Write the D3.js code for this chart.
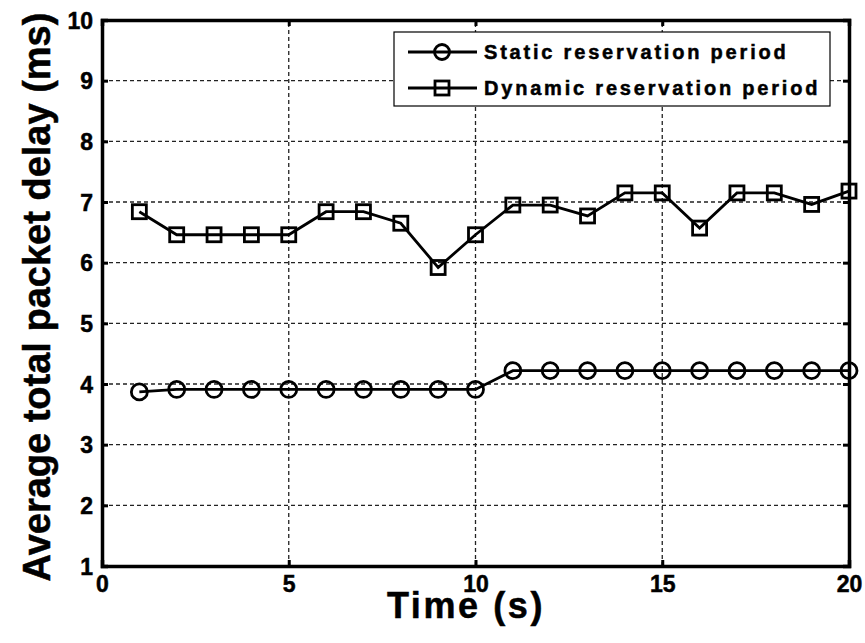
<!DOCTYPE html>
<html>
<head>
<meta charset="utf-8">
<script src="https://cdn.jsdelivr.net/npm/d3@7"></script>
<style>
  body { margin: 0; background: #fff; }
  text { font-family: "Liberation Sans", Arial, sans-serif; font-weight: bold; fill: #000; stroke: #000; stroke-width: 0.5px; }
</style>
</head>
<body>
<svg></svg>
<script>
const times = [1, 2, 3, 4, 5, 6, 7, 8, 9, 10, 11, 12, 13, 14, 15, 16, 17, 18, 19, 20];
const staticDelay = [3.87, 3.91, 3.91, 3.91, 3.91, 3.91, 3.91, 3.91, 3.91, 3.91,
                     4.22, 4.22, 4.22, 4.22, 4.22, 4.22, 4.22, 4.22, 4.22, 4.22];
const dynamicDelay = [6.84, 6.46, 6.46, 6.46, 6.46, 6.84, 6.84, 6.65, 5.92, 6.46,
                      6.95, 6.95, 6.77, 7.15, 7.15, 6.57, 7.15, 7.15, 6.96, 7.18];
const xTicks = [0, 5, 10, 15, 20];
const yTicks = [1, 2, 3, 4, 5, 6, 7, 8, 9, 10];
const seriesNames = ["Static reservation period", "Dynamic reservation period"];

const width = 865;
const height = 643;
const svg = d3.select("svg")
              .attr("width", width)
              .attr("height", height);

const x = d3.scaleLinear().domain([0, 20]).range([102, 849]);
const y = d3.scaleLinear().domain([1, 10]).range([566, 20]);

// grid
svg.append("g").selectAll("line")
    .data(yTicks.slice(1, -1))
    .enter().append("line")
      .attr("x1", x(0)).attr("x2", x(20))
      .attr("y1", d => y(d)).attr("y2", d => y(d))
      .attr("stroke", "#222").attr("stroke-width", 1.3)
      .attr("stroke-dasharray", "4,3");
svg.append("g").selectAll("line")
    .data(xTicks.slice(1, -1))
    .enter().append("line")
      .attr("x1", d => x(d)).attr("x2", d => x(d))
      .attr("y1", y(1)).attr("y2", y(10))
      .attr("stroke", "#222").attr("stroke-width", 1.3)
      .attr("stroke-dasharray", "4,3");

// axes with inward ticks
const axBottom = svg.append("g").attr("transform", `translate(0,${y(1)})`)
    .call(d3.axisBottom(x).tickValues(xTicks).tickSize(-6).tickPadding(14));
const axTop = svg.append("g").attr("transform", `translate(0,${y(10)})`)
    .call(d3.axisTop(x).tickValues(xTicks).tickSize(-6).tickFormat(""));
const axLeft = svg.append("g").attr("transform", `translate(${x(0)},0)`)
    .call(d3.axisLeft(y).tickValues(yTicks).tickSize(-6).tickPadding(9));
const axRight = svg.append("g").attr("transform", `translate(${x(20)},0)`)
    .call(d3.axisRight(y).tickValues(yTicks).tickSize(-6).tickFormat(""));

[axBottom, axTop, axLeft, axRight].forEach(g => {
  g.attr("font-family", null).attr("font-size", null);
  g.select(".domain").attr("stroke", "#000").attr("stroke-width", 3.5);
  g.selectAll(".tick line").attr("stroke", "#000").attr("stroke-width", 3);
  g.selectAll("text").style("font-size", "23px");
});
axBottom.selectAll("text").attr("y", 26).attr("dy", 0);
axLeft.selectAll("text").attr("dy", "0.36em");

// lines
const line = d3.line().x((d, i) => x(times[i])).y(d => y(d));

function drawSeries(values, marker) {
  const g = svg.append("g");
  g.append("path")
      .datum(values)
      .attr("d", line)
      .attr("fill", "none").attr("stroke", "#000").attr("stroke-width", 2.8);
  if (marker === "circle") {
    g.selectAll("circle").data(values).enter().append("circle")
        .attr("cx", (d, i) => x(times[i])).attr("cy", d => y(d)).attr("r", 8)
        .attr("fill", "none").attr("stroke", "#000").attr("stroke-width", 2.8);
  } else {
    g.selectAll("rect").data(values).enter().append("rect")
        .attr("x", (d, i) => x(times[i]) - 7).attr("y", d => y(d) - 7)
        .attr("width", 14).attr("height", 14)
        .attr("fill", "none").attr("stroke", "#000").attr("stroke-width", 2.8);
  }
}
drawSeries(staticDelay, "circle");
drawSeries(dynamicDelay, "square");

// legend
const legend = svg.append("g");
legend.append("rect")
    .attr("x", 394).attr("y", 32).attr("width", 436).attr("height", 74)
    .attr("fill", "#fff").attr("stroke", "#000").attr("stroke-width", 1.2);
seriesNames.forEach((name, i) => {
  const ly = 52 + i * 36;
  legend.append("line").attr("x1", 408).attr("x2", 477).attr("y1", ly).attr("y2", ly)
      .attr("stroke", "#000").attr("stroke-width", 2.8);
  if (i === 0) {
    legend.append("circle").attr("cx", 442).attr("cy", ly).attr("r", 7.5)
        .attr("fill", "none").attr("stroke", "#000").attr("stroke-width", 2.8);
  } else {
    legend.append("rect").attr("x", 435).attr("y", ly - 7).attr("width", 14).attr("height", 14)
        .attr("fill", "none").attr("stroke", "#000").attr("stroke-width", 2.8);
  }
  legend.append("text").attr("x", 484).attr("y", ly + 7)
      .style("font-size", "20px").style("letter-spacing", "2.8px")
      .text(name);
});

// axis titles
svg.append("text")
    .attr("x", 466).attr("y", 618)
    .attr("text-anchor", "middle")
    .style("font-size", "36px").style("letter-spacing", "2.6px")
    .text("Time (s)");
svg.append("text")
    .attr("transform", "translate(50,297) rotate(-90)")
    .attr("text-anchor", "middle")
    .style("font-size", "38px")
    .text("Average total packet delay (ms)");
</script>
</body>
</html>
